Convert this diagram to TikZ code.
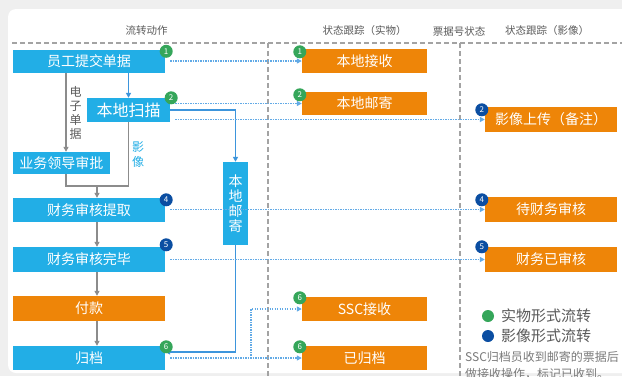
\documentclass[tikz,border=0pt]{standalone}
\usepackage{fontspec}
\setmainfont{Noto Sans CJK SC}
\usetikzlibrary{arrows.meta,calc}

\definecolor{pagegray}{HTML}{EFEFEF}
\definecolor{boxblue}{HTML}{22AEE6}
\definecolor{boxorange}{HTML}{EE8508}
\definecolor{badgegreen}{HTML}{35A65A}
\definecolor{badgeblue}{HTML}{0B4EA2}
\definecolor{flowgray}{HTML}{8C8C8C}
\definecolor{lineblue}{HTML}{3D95DC}
\definecolor{dotblue}{HTML}{62AAE6}
\definecolor{divgray}{HTML}{A3A3A3}
\definecolor{headgray}{HTML}{5A5A5A}
\definecolor{notegray}{HTML}{7A7A7A}

\tikzset{
  box/.style={draw=none, inner sep=0pt, text=white, font=\fontsize{14}{14}\selectfont},
  bluebox/.style={box, fill=boxblue},
  orangebox/.style={box, fill=boxorange},
  badge/.style={circle, inner sep=0pt, minimum size=13, text=white, font=\fontsize{8}{8}\selectfont},
  gbadge/.style={badge, fill=badgegreen},
  bbadge/.style={badge, fill=badgeblue},
  tip/.style={-{Triangle[length=5,width=5]}},
  flow/.style={draw=flowgray, line width=1.2, tip},
  postline/.style={draw=lineblue, line width=1.3, tip},
  dotline/.style={draw=dotblue, line width=1.2, dash pattern=on 1.3 off 1.2, tip},
  divider/.style={draw=divgray, line width=1.2, dash pattern=on 5 off 3},
  head/.style={text=headgray, font=\fontsize{10.5}{10.5}\selectfont, inner sep=0pt},
}

\begin{document}
\begin{tikzpicture}[x=1pt,y=-1pt]
\useasboundingbox (0,0) rectangle (622,376);
\clip (0,0) rectangle (622,376);
\fill[pagegray] (0,0) rectangle (622,376);
\fill[white, rounded corners=8] (8,9) rectangle (660,373);

% column headers
\node[head] (h1) at (146.5,31) {流转动作};
\node[head] (h2) at (364.5,31) {状态跟踪（实物）};
\node[head] (h3) at (459,31) {票据号状态};
\node[head] (h4) at (547,31) {状态跟踪（影像）};

% dividers
\draw[divider] (12,43) -- (622,43);
\draw[divider] (268,43) -- (268,376);
\draw[divider] (460,43) -- (460,376);

% flow actions
\node[bluebox, minimum width=152, minimum height=23] (submit) at (89,61) {员工提交单据};
\node[bluebox, minimum width=83, minimum height=24, font=\fontsize{16}{16}\selectfont] (scan) at (128.5,110) {本地扫描};
\node[bluebox, minimum width=97, minimum height=22] (approve) at (61.5,163) {业务领导审批};
\node[bluebox, minimum width=152, minimum height=24] (audit) at (89,210) {财务审核提取};
\node[bluebox, minimum width=152, minimum height=25] (done) at (89,259.5) {财务审核完毕};
\node[orangebox, minimum width=152, minimum height=25] (pay) at (89,308.5) {付款};
\node[bluebox, minimum width=152, minimum height=24] (archive) at (89,358) {归档};
\node[bluebox, minimum width=25, minimum height=83, align=center,
      font=\fontsize{14}{15}\selectfont] (post) at (235.5,203.5) {本\\地\\邮\\寄};

% physical status
\node[orangebox, minimum width=125, minimum height=24] (recv) at (364.5,61) {本地接收};
\node[orangebox, minimum width=125, minimum height=23] (mail) at (364.5,103.5) {本地邮寄};
\node[orangebox, minimum width=125, minimum height=24] (ssc) at (364.5,309) {SSC接收};
\node[orangebox, minimum width=125, minimum height=24] (filed) at (364.5,358) {已归档};

% image status
\node[orangebox, minimum width=132, minimum height=25] (upload) at (551,119.5) {影像上传（备注）};
\node[orangebox, minimum width=132, minimum height=25] (pending) at (551,209.5) {待财务审核};
\node[orangebox, minimum width=132, minimum height=25] (reviewed) at (551,259.5) {财务已审核};

% side labels
\node[text=headgray, align=center, inner sep=0pt, font=\fontsize{12}{14}\selectfont] (elec) at (75.5,113) {电\\子\\单\\据};
\node[text=boxblue, align=center, inner sep=0pt, font=\fontsize{12}{15}\selectfont] (img) at (138,154.5) {影\\像};

% gray flow
\coordinate (eL) at (66,0);
\coordinate (mid) at (97,186);
\draw[flow] (submit.south -| eL) -- (approve.north -| eL);
\draw[draw=flowgray, line width=1.2] (approve.south -| eL) |- (mid);
\draw[draw=flowgray, line width=1.2] (scan.south) |- (mid);
\draw[flow] (mid) -- (audit.north -| mid);
\draw[flow] (audit.south -| mid) -- (done.north -| mid);
\draw[flow] (done.south -| mid) -- (pay.north -| mid);
\draw[flow] (pay.south -| mid) -- (archive.north -| mid);

% scan and post
\draw[postline] (submit.south -| scan.north) -- (scan.north);
\draw[postline] (scan.east) -| (post.north);
\draw[postline] (post.south) |- ([yshift=6pt]archive.east);

% status links
\draw[dotline] ([xshift=5pt]submit.east) -- (recv.west);
\draw[dotline] ([xshift=5pt]scan.east |- mail.west) -- (mail.west);
\draw[dotline] ([xshift=5pt]scan.east |- upload.west) -- (upload.west);
\draw[dotline] ([xshift=5pt]audit.east |- pending.west) -- (pending.west);
\draw[dotline] ([xshift=5pt]done.east) -- (reviewed.west);
\draw[dotline] ([xshift=5pt]archive.east) -- (filed.west);
\coordinate (split) at (251,358);
\draw[dotline] (split) |- (ssc.west);

% step badges
\node[gbadge] (b1a) at ([xshift=1pt,yshift=-2pt]submit.north east) {1};
\node[gbadge] (b1b) at ([xshift=-2pt,yshift=-3pt]recv.north west) {1};
\node[gbadge] (b2a) at ([xshift=1pt]scan.north east) {2};
\node[gbadge] (b2b) at ([xshift=-2pt,yshift=-3pt]mail.north west) {2};
\node[bbadge] (b2c) at ([xshift=-3pt,yshift=-3pt]upload.north west) {2};
\node[bbadge] (b4a) at ([xshift=1pt,yshift=-2pt]audit.north east) {4};
\node[bbadge] (b4b) at ([xshift=-3pt,yshift=-3pt]pending.north west) {4};
\node[bbadge] (b5a) at ([xshift=1pt,yshift=2pt]done.north east) {5};
\node[bbadge] (b5b) at ([xshift=-3pt]reviewed.north west) {5};
\node[gbadge] (b6a) at ([xshift=1pt,yshift=-1pt]archive.north east) {6};
\node[gbadge] (b6b) at ([xshift=-2pt,yshift=-1pt]ssc.north west) {6};
\node[gbadge] (b6c) at ([xshift=-2pt,yshift=-1pt]filed.north west) {6};

% legend
\fill[badgegreen] (488,316) circle (6);
\node[anchor=west, inner sep=0pt, text=headgray, font=\fontsize{15}{15}\selectfont] (lg1) at (501,316) {实物形式流转};
\fill[badgeblue] (488,336) circle (6);
\node[anchor=west, inner sep=0pt, text=headgray, font=\fontsize{15}{15}\selectfont] (lg2) at (501,336) {影像形式流转};
\node[anchor=west, inner sep=0pt, text=notegray, font=\fontsize{12}{12}\selectfont] (note1) at (465,357) {SSC归档员收到邮寄的票据后};
\node[anchor=west, inner sep=0pt, text=notegray, font=\fontsize{12}{12}\selectfont] (note2) at (465,374) {做接收操作，标记已收到。};
\end{tikzpicture}
\end{document}
